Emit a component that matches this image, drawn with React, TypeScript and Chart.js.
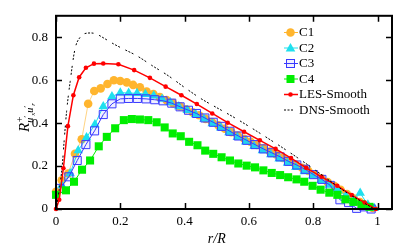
import React, { useEffect, useRef } from "react";
import { Chart, registerables } from "chart.js";

Chart.register(...registerables);

const SERIF = '"Liberation Serif", "DejaVu Serif", "Times New Roman", serif';

// tick labels
const xTickValues = [0, 0.2, 0.4, 0.6, 0.8, 1];
const xTickLabels = ["0", "0.2", "0.4", "0.6", "0.8", "1"];
const yTickValues = [0, 0.2, 0.4, 0.6, 0.8];
const yTickLabels = ["0", "0.2", "0.4", "0.6", "0.8"];

// series
const c1X = [0, 0.018, 0.038, 0.059, 0.08, 0.1, 0.119, 0.139, 0.16, 0.18, 0.2, 0.22, 0.24, 0.261, 0.282, 0.303, 0.323, 0.344, 0.364, 0.385, 0.405, 0.425, 0.445, 0.465, 0.485, 0.505, 0.525, 0.545, 0.565, 0.585, 0.605, 0.625, 0.645, 0.665, 0.685, 0.705, 0.725, 0.745, 0.765, 0.785, 0.805, 0.825, 0.845, 0.865, 0.885, 0.905, 0.925, 0.945, 0.965, 0.985];
const c1Y = [0.08, 0.134, 0.165, 0.257, 0.325, 0.49, 0.55, 0.562, 0.582, 0.6, 0.596, 0.59, 0.578, 0.567, 0.547, 0.536, 0.521, 0.507, 0.493, 0.478, 0.465, 0.45, 0.437, 0.42, 0.405, 0.39, 0.374, 0.358, 0.342, 0.327, 0.313, 0.298, 0.283, 0.268, 0.254, 0.238, 0.222, 0.207, 0.192, 0.177, 0.16, 0.143, 0.125, 0.108, 0.09, 0.07, 0.05, 0.032, 0.015, 0.005];

const c2X = [0.018, 0.044, 0.069, 0.095, 0.121, 0.147, 0.174, 0.2, 0.226, 0.252, 0.278, 0.304, 0.33, 0.356, 0.382, 0.408, 0.434, 0.46, 0.486, 0.512, 0.538, 0.564, 0.59, 0.616, 0.642, 0.668, 0.694, 0.72, 0.746, 0.772, 0.798, 0.824, 0.85, 0.876, 0.902, 0.926, 0.946, 0.97, 0.99];
const c2Y = [0.11, 0.165, 0.272, 0.333, 0.394, 0.478, 0.524, 0.542, 0.54, 0.539, 0.535, 0.527, 0.512, 0.496, 0.478, 0.46, 0.44, 0.419, 0.398, 0.378, 0.356, 0.334, 0.313, 0.292, 0.273, 0.254, 0.234, 0.214, 0.194, 0.175, 0.155, 0.134, 0.112, 0.09, 0.062, 0.042, 0.074, 0.02, 0.003];

const c3X = [0.012, 0.04, 0.066, 0.093, 0.12, 0.147, 0.174, 0.2, 0.226, 0.253, 0.28, 0.307, 0.333, 0.36, 0.386, 0.412, 0.437, 0.463, 0.489, 0.515, 0.541, 0.567, 0.593, 0.619, 0.645, 0.671, 0.697, 0.723, 0.749, 0.775, 0.801, 0.827, 0.853, 0.883, 0.91, 0.935, 0.958, 0.98];
const c3Y = [0.096, 0.15, 0.226, 0.3, 0.364, 0.44, 0.49, 0.513, 0.515, 0.515, 0.513, 0.509, 0.504, 0.493, 0.476, 0.46, 0.445, 0.424, 0.404, 0.385, 0.362, 0.34, 0.32, 0.3, 0.28, 0.262, 0.243, 0.222, 0.205, 0.185, 0.16, 0.138, 0.11, 0.043, 0.03, 0.003, 0.01, 0];

const c4X = [0, 0.031, 0.056, 0.081, 0.106, 0.133, 0.158, 0.184, 0.211, 0.236, 0.261, 0.287, 0.313, 0.338, 0.363, 0.388, 0.414, 0.44, 0.464, 0.489, 0.515, 0.541, 0.567, 0.593, 0.619, 0.645, 0.671, 0.697, 0.722, 0.748, 0.772, 0.798, 0.823, 0.85, 0.875, 0.9, 0.925, 0.95, 0.975];
const c4Y = [0.066, 0.087, 0.127, 0.183, 0.226, 0.292, 0.336, 0.376, 0.414, 0.419, 0.417, 0.414, 0.404, 0.38, 0.352, 0.339, 0.313, 0.297, 0.272, 0.257, 0.241, 0.226, 0.212, 0.202, 0.194, 0.18, 0.168, 0.158, 0.148, 0.138, 0.127, 0.108, 0.09, 0.076, 0.066, 0.045, 0.033, 0.022, 0.01];

const lesX = [0, 0.01, 0.023, 0.037, 0.054, 0.072, 0.093, 0.118, 0.147, 0.194, 0.243, 0.292, 0.341, 0.39, 0.438, 0.486, 0.534, 0.585, 0.634, 0.683, 0.731, 0.778, 0.826, 0.875, 0.92, 0.96, 0.995];
const lesY = [0, 0.043, 0.19, 0.386, 0.53, 0.614, 0.658, 0.677, 0.678, 0.674, 0.647, 0.611, 0.57, 0.53, 0.489, 0.445, 0.402, 0.36, 0.32, 0.28, 0.237, 0.192, 0.15, 0.108, 0.065, 0.03, 0];

const dnsX = [0, 0.01, 0.019, 0.026, 0.033, 0.044, 0.059, 0.075, 0.095, 0.11, 0.127, 0.15, 0.178, 0.21, 0.25, 0.3, 0.35, 0.4, 0.45, 0.5, 0.55, 0.6, 0.65, 0.7, 0.75, 0.8, 0.85, 0.9, 0.95, 0.99];
const dnsY = [0, 0.09, 0.195, 0.33, 0.455, 0.593, 0.745, 0.8, 0.819, 0.82, 0.814, 0.795, 0.77, 0.745, 0.715, 0.667, 0.62, 0.566, 0.515, 0.472, 0.43, 0.385, 0.338, 0.29, 0.24, 0.188, 0.133, 0.08, 0.035, 0];

const seriesNames = ["C1", "C2", "C3", "C4", "LES-Smooth", "DNS-Smooth"];

const C1_COLOR = "#ffb52e";
const C2_COLOR = "#1ee0ee";
const C3_COLOR = "#3a3aff";
const C4_COLOR = "#00ee00";
const LES_COLOR = "#ff0000";
const DNS_DASH = [2, 1.5, 2, 1.5, 2, 6];

const pts = (xs: number[], ys: number[]) => xs.map((x, i) => ({ x, y: ys[i] }));

function drawMarker(ctx: CanvasRenderingContext2D, kind: string, x: number, y: number) {
  ctx.save();
  if (kind === "circle") {
    ctx.fillStyle = C1_COLOR;
    ctx.beginPath();
    ctx.arc(x, y, 4.3, 0, Math.PI * 2);
    ctx.fill();
  } else if (kind === "triangle") {
    ctx.fillStyle = C2_COLOR;
    ctx.beginPath();
    ctx.moveTo(x, y - 5);
    ctx.lineTo(x + 4.8, y + 3.5);
    ctx.lineTo(x - 4.8, y + 3.5);
    ctx.closePath();
    ctx.fill();
  } else if (kind === "openRect") {
    ctx.strokeStyle = C3_COLOR;
    ctx.fillStyle = "rgba(58,58,255,0.08)";
    ctx.lineWidth = 1;
    ctx.fillRect(x - 4, y - 4, 8, 8);
    ctx.strokeRect(x - 4, y - 4, 8, 8);
  } else if (kind === "rect") {
    ctx.fillStyle = C4_COLOR;
    ctx.fillRect(x - 4, y - 4, 8, 8);
  } else if (kind === "dot") {
    ctx.fillStyle = LES_COLOR;
    ctx.beginPath();
    ctx.arc(x, y, 2.3, 0, Math.PI * 2);
    ctx.fill();
  }
  ctx.restore();
}

const framePlugin = {
  id: "frameAndLabels",
  afterDatasetsDraw(chart: any) {
    const { ctx, chartArea, scales } = chart;
    const xs = scales.x;
    const ys = scales.y;
    ctx.save();
    // frame
    ctx.strokeStyle = "#000";
    ctx.lineWidth = 2;
    ctx.strokeRect(chartArea.left, chartArea.top, chartArea.right - chartArea.left, chartArea.bottom - chartArea.top);
    // inward ticks, mirrored
    ctx.lineWidth = 1.5;
    ctx.beginPath();
    xTickValues.forEach((v) => {
      const px = Math.round(xs.getPixelForValue(v)) + 0.5;
      ctx.moveTo(px, chartArea.bottom);
      ctx.lineTo(px, chartArea.bottom - 6);
      ctx.moveTo(px, chartArea.top);
      ctx.lineTo(px, chartArea.top + 6);
    });
    yTickValues.forEach((v) => {
      const py = Math.round(ys.getPixelForValue(v)) + 0.5;
      ctx.moveTo(chartArea.left, py);
      ctx.lineTo(chartArea.left + 6, py);
      ctx.moveTo(chartArea.right, py);
      ctx.lineTo(chartArea.right - 6, py);
    });
    ctx.stroke();

    // x axis title
    ctx.fillStyle = "#000";
    ctx.font = `italic 14px ${SERIF}`;
    ctx.textAlign = "center";
    ctx.textBaseline = "alphabetic";
    ctx.fillText("r/R", xs.getPixelForValue(0.5), 243);

    // y axis title: R^+_{u'_x u'_r}, rotated
    ctx.translate(29, 132);
    ctx.rotate(-Math.PI / 2);
    ctx.textAlign = "left";
    ctx.font = `italic 15px ${SERIF}`;
    ctx.fillText("R", 0, 0);
    const rw = ctx.measureText("R").width;
    ctx.font = `10px ${SERIF}`;
    ctx.fillText("+", rw + 0.5, -6);
    let cx = rw;
    const pieces: [string, string, number][] = [
      ["u", `italic 10px ${SERIF}`, 4],
      ["\u2032", `9px ${SERIF}`, 1],
      ["x", `italic 7px ${SERIF}`, 6],
      ["u", `italic 10px ${SERIF}`, 4],
      ["\u2032", `9px ${SERIF}`, 1],
      ["r", `italic 7px ${SERIF}`, 6],
    ];
    pieces.forEach(([t, f, dy]) => {
      ctx.font = f;
      ctx.fillText(t, cx, dy);
      cx += ctx.measureText(t).width;
    });
    ctx.restore();

    // legend
    ctx.save();
    const kinds = ["circle", "triangle", "openRect", "rect", "dot", "dash"];
    const colors = [C1_COLOR, C2_COLOR, C3_COLOR, C4_COLOR, LES_COLOR, "#000"];
    const ys0 = [32, 47.5, 63, 78.5, 94, 109.5];
    seriesNames.forEach((name, i) => {
      const y = ys0[i];
      const x0 = 284;
      const x1 = 297;
      ctx.strokeStyle = colors[i];
      ctx.lineWidth = i === 4 ? 1.5 : 1;
      if (kinds[i] === "dash") ctx.setLineDash([2, 1.5, 2, 1.5, 2, 6]);
      else ctx.setLineDash([]);
      ctx.beginPath();
      ctx.moveTo(x0, y + 0.5);
      ctx.lineTo(x1 + 1, y + 0.5);
      ctx.stroke();
      ctx.setLineDash([]);
      if (kinds[i] !== "dash") drawMarker(ctx, kinds[i], (x0 + x1) / 2, y + 0.5);
      ctx.fillStyle = "#000";
      ctx.font = `13px ${SERIF}`;
      ctx.textAlign = "left";
      ctx.textBaseline = "middle";
      ctx.fillText(name, 299, y + 1);
    });
    ctx.restore();
  },
};

export default function App() {
  const canvasRef = useRef<HTMLCanvasElement | null>(null);

  useEffect(() => {
    document.body.style.margin = "0";
    const canvas = canvasRef.current;
    if (!canvas) return;
    const chart = new Chart(canvas, {
      type: "line",
      data: {
        datasets: [
          {
            label: "DNS-Smooth",
            data: pts(dnsX, dnsY),
            borderColor: "#000",
            borderWidth: 1,
            borderDash: DNS_DASH,
            pointRadius: 0,
            cubicInterpolationMode: "monotone",
            clip: false as any,
          },
          {
            label: "LES-Smooth",
            data: pts(lesX, lesY),
            borderColor: LES_COLOR,
            backgroundColor: LES_COLOR,
            borderWidth: 1.5,
            pointStyle: "circle",
            pointRadius: 2.3,
            pointBorderWidth: 0,
            clip: false as any,
          },
          {
            label: "C4",
            data: pts(c4X, c4Y),
            borderColor: C4_COLOR,
            backgroundColor: C4_COLOR,
            borderWidth: 1,
            pointStyle: "rect",
            pointRadius: 5.7,
            pointBorderWidth: 0,
            clip: false as any,
          },
          {
            label: "C3",
            data: pts(c3X, c3Y),
            borderColor: C3_COLOR,
            backgroundColor: "rgba(58,58,255,0.08)",
            borderWidth: 1,
            pointStyle: "rect",
            pointRadius: 5.7,
            pointBorderWidth: 1,
            pointBorderColor: C3_COLOR,
            clip: false as any,
          },
          {
            label: "C2",
            data: pts(c2X, c2Y),
            borderColor: C2_COLOR,
            backgroundColor: C2_COLOR,
            borderWidth: 1,
            pointStyle: "triangle",
            pointRadius: 5.5,
            pointBorderWidth: 0,
            clip: false as any,
          },
          {
            label: "C1",
            data: pts(c1X, c1Y),
            borderColor: "rgba(255,181,46,0.6)",
            backgroundColor: C1_COLOR,
            borderWidth: 1,
            pointStyle: "circle",
            pointRadius: 4.3,
            pointBorderWidth: 0,
            clip: false as any,
          },
        ],
      },
      options: {
        animation: false,
        responsive: false,
        maintainAspectRatio: false,
        layout: { padding: { left: 0, right: 24, top: 13, bottom: 0 } },
        plugins: {
          legend: { display: false },
          tooltip: { enabled: false },
        },
        scales: {
          x: {
            type: "linear",
            min: 0,
            max: 1.045,
            grid: { display: false, drawTicks: false },
            border: { display: false },
            afterFit: (s: any) => {
              s.height = 40;
            },
            ticks: {
              stepSize: 0.2,
              includeBounds: false,
              padding: 5,
              color: "#000",
              font: { family: SERIF, size: 13 },
              maxRotation: 0,
              callback: (v: any) => {
                const i = xTickValues.findIndex((t) => Math.abs(t - Number(v)) < 1e-6);
                return i >= 0 ? xTickLabels[i] : "";
              },
            },
          },
          y: {
            type: "linear",
            min: 0,
            max: 0.9,
            grid: { display: false, drawTicks: false },
            border: { display: false },
            afterFit: (s: any) => {
              s.width = 56;
            },
            ticks: {
              stepSize: 0.2,
              includeBounds: false,
              padding: 8,
              color: "#000",
              font: { family: SERIF, size: 13 },
              callback: (v: any) => {
                const i = yTickValues.findIndex((t) => Math.abs(t - Number(v)) < 1e-6);
                return i >= 0 ? yTickLabels[i] : "";
              },
            },
          },
        },
      },
      plugins: [framePlugin],
    });
    return () => chart.destroy();
  }, []);

  return (
    <div style={{ position: "fixed", left: 0, top: 0, width: 416, height: 249, background: "#fff" }}>
      <canvas ref={canvasRef} width={416} height={249} style={{ width: 416, height: 249 }} />
    </div>
  );
}
